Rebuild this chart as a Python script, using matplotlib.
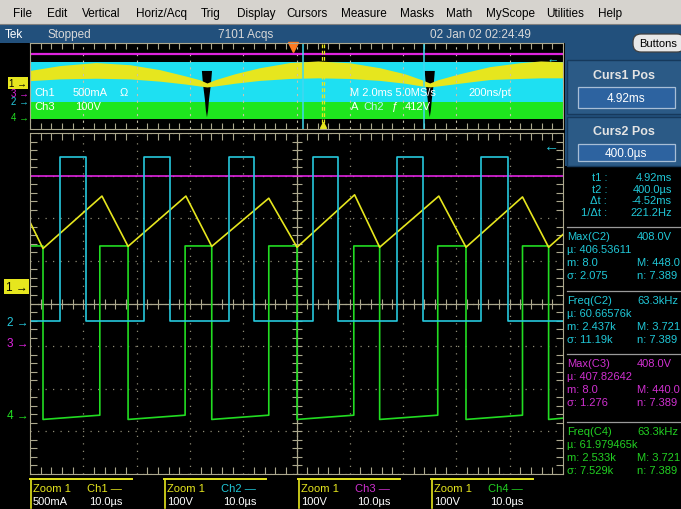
import numpy as np
import matplotlib
matplotlib.use("Agg")
import matplotlib.pyplot as plt
from matplotlib import font_manager
from matplotlib.patches import Rectangle, FancyBboxPatch, Polygon

# ---------------- data ----------------
# Zoom 1 window: time in us (10 us/div), amplitude in divisions
ch1_t = [0, 2.44, 13.5, 18.4, 29.25, 34.1, 44.8, 50.1, 60.9, 65.6, 76.7, 81.8, 92.4, 97.3, 100]
ch1_v = [1.91, 1.29, 2.52, 1.34, 2.52, 1.34, 2.47, 1.32, 2.55, 1.32, 2.52, 1.32, 2.50, 1.32, 1.62]
ch2_rise = [5.63, 21.4, 37.3, 53.1, 68.8, 84.6]
ch2_fall = [10.5, 26.25, 42.0, 57.8, 73.7, 89.6]
ch2_high, ch2_low = 3.44, -0.41
ch3_level = 2.99
ch4_fall = [2.44, 18.4, 34.1, 50.1, 65.6, 81.8, 97.3]
ch4_rise = [13.1, 29.1, 44.8, 60.75, 76.5, 92.4]
ch4_high = 1.35
ch4_low_start, ch4_low_end = -2.72, -2.62
main_gnd = {"1": 0.39, "2": -0.43, "3": -0.93, "4": -2.62}

# overview record: time in ms (2 ms/div), trigger at 0
ov_xlim = (-9.86, 10.14)
ov_t = [-9.86, -8.74, -7.39, -6.11, -4.99, -4.05, -3.49, -3.22, -2.92, -2.17, -1.24, -0.11,
        0.94, 2.14, 3.26, 4.20, 4.84, 5.14, 5.44, 6.26, 7.39, 8.51, 9.30, 10.14]
ov_top = [1.45, 1.90, 2.18, 1.98, 1.52, 0.95, 0.58, 0.28, 0.58, 1.14, 1.70, 2.18,
          2.33, 2.16, 1.70, 1.14, 0.58, 0.28, 0.58, 1.14, 1.80, 2.16, 2.33, 2.25]
ov_bot = [0.50, 0.66, 0.72, 0.66, 0.45, 0.19, 0.00, -0.09, 0.00, 0.26, 0.52, 0.70,
          0.76, 0.70, 0.52, 0.26, 0.00, -0.09, 0.00, 0.26, 0.60, 0.70, 0.76, 0.76]
ov_ch3_level = 2.98
ov_ch2_band = (-1.49, 2.23)
ov_ch4_band = (-3.07, -1.49)
ov_dips = [-3.22, 5.14]
notch_dx = [-0.19, 0.19, 0.15, 0.08, 0.04, 0.0, -0.04, -0.08, -0.15]
notch_y = [1.4, 1.4, 0.2, -1.2, -2.3, -2.9, -2.3, -1.2, 0.2]
curs1_ms, curs2_ms = 4.92, 0.40
zoom_start_ms, zoom_width_ms = 1.09, 0.10
ov_gnd = {"1": 0.25, "3": -0.62, "2": -1.42, "4": -2.88}

menu_items = ["File", "Edit", "Vertical", "Horiz/Acq", "Trig", "Display", "Cursors",
              "Measure", "Masks", "Math", "MyScope", "Utilities", "Help"]

curs_labels = ["t1 :", "t2 :", "\u0394t :", "1/\u0394t :"]
curs_values = ["4.92ms", "400.0\u00b5s", "-4.52ms", "221.2Hz"]

meas_title = ["Max(C2)", "Freq(C2)", "Max(C3)", "Freq(C4)"]
meas_value = ["408.0V", "63.3kHz", "408.0V", "63.3kHz"]
meas_mean = ["406.53611", "60.66576k", "407.82642", "61.979465k"]
meas_min = ["8.0", "2.437k", "8.0", "2.533k"]
meas_max = ["448.0", "3.721", "440.0", "3.721"]
meas_sigma = ["2.075", "11.19k", "1.276", "7.529k"]
meas_n = ["7.389", "7.389", "7.389", "7.389"]

readout_ch = ["Ch1", "Ch2", "Ch3", "Ch4"]
readout_scale = ["500mA", "100V", "100V", "100V"]
readout_time = ["10.0\u00b5s"] * 4

# ---------------- style ----------------
installed = {f.name for f in font_manager.fontManager.ttflist}
tek_font = next((f for f in ["Liberation Sans Narrow", "Liberation Sans"] if f in installed), "DejaVu Sans")
plt.rcParams["font.family"] = [tek_font, "DejaVu Sans"]

YEL, CYA, MAG, GRN = "#e6e61e", "#26c8dc", "#e024e0", "#22dc22"
OV_CYA, OV_GRN = "#1ee0f2", "#1ee61e"
T_CYA, T_MAG, T_GRN = "#20c8d8", "#d030d0", "#22d022"
grid_col, dot_col = "#aca88e", "#8e8a74"
bar_blue, panel_blue = "#22507c", "#2b5a86"

W, H = 681, 510
fig = plt.figure(figsize=(W / 100, H / 100), dpi=100, facecolor="black")


def px_axes(x0, y0, x1, y1, z):
    return fig.add_axes([x0 / W, 1 - y1 / H, (x1 - x0) / W, (y1 - y0) / H], zorder=z)


bg = px_axes(0, 0, W, H, 0)
bg.set_xlim(0, W); bg.set_ylim(H, 0); bg.axis("off")
fg = px_axes(0, 0, W, H, 5)
fg.set_xlim(0, W); fg.set_ylim(H, 0); fg.axis("off")

# window chrome
bg.add_patch(Rectangle((0, 0), W, 25, fc="#d6d3ce", ec="none"))
bg.plot([0, W], [25, 25], color="#808080", lw=0.8)
bg.add_patch(Rectangle((0, 26), W, 18, fc=bar_blue, ec="none"))
bg.add_patch(Rectangle((565, 44), W - 565, 123, fc=bar_blue, ec="none"))
bg.add_patch(Rectangle((567, 61), 116, 54, fc=panel_blue, ec="#16395c", lw=1))
bg.add_patch(Rectangle((567, 118), 116, 49, fc=panel_blue, ec="#16395c", lw=1))
bg.add_patch(Rectangle((578, 88), 97, 21, fc="#2d63a0", ec="#a8bed6", lw=0.9))
bg.add_patch(Rectangle((578, 145), 97, 17, fc="#2d63a0", ec="#a8bed6", lw=0.9))
bg.add_patch(FancyBboxPatch((633, 35), 52, 18, boxstyle="round,pad=0,rounding_size=8",
                            fc="#e8e8e8", ec="#404040", lw=0.9))

menu_x = [13, 47, 82, 136, 201, 237, 286, 341, 400, 446, 486, 546, 598]
for name, x in zip(menu_items, menu_x):
    fg.text(x, 14, name, color="black", fontsize=8.5, va="center")

fg.text(5, 35, "Tek", color="white", fontsize=8.5, va="center")
fg.text(48, 35, "Stopped", color="#d8d8d8", fontsize=8.5, va="center")
fg.text(218, 35, "7101 Acqs", color="#d8d8d8", fontsize=8.5, va="center")
fg.text(430, 35, "02 Jan 02 02:24:49", color="#d8d8d8", fontsize=8.5, va="center")
fg.text(658, 44, "Buttons", color="black", fontsize=8, va="center", ha="center")
fg.text(624, 76, "Curs1 Pos", color="#e4e4e4", fontsize=9, va="center", ha="center", weight="bold")
fg.text(626, 99, "4.92ms", color="white", fontsize=8.5, va="center", ha="center")
fg.text(624, 132, "Curs2 Pos", color="#e4e4e4", fontsize=9, va="center", ha="center", weight="bold")
fg.text(626, 154, "400.0\u00b5s", color="white", fontsize=8.5, va="center", ha="center")

# ---------------- overview ----------------
ov = px_axes(30, 44, 563, 130, 2)
ov.set_facecolor("black")
ov.set_xlim(*ov_xlim); ov.set_ylim(-4, 4)
ov.fill_between(ov_xlim, *ov_ch2_band, color=OV_CYA, lw=0)
ov.fill_between(ov_xlim, *ov_ch4_band, color=OV_GRN, lw=0)
ov.plot(ov_xlim, [ov_ch3_level] * 2, color=MAG, lw=1.6)
for d in ov_dips:
    ov.add_patch(Polygon(np.column_stack([d + np.array(notch_dx), notch_y]), fc="black", ec="none"))
ov.fill_between(ov_t, ov_bot, ov_top, color=YEL, lw=0)
ov_div = ov_xlim[0] + 2 * np.arange(11)
ov.set_xticks(ov_div)
ov.set_xticks(ov_xlim[0] + 0.4 * np.arange(51), minor=True)
ov.set_yticks([])
ov.tick_params(which="both", direction="in", length=4, width=0.8, color=grid_col,
               top=True, labelbottom=False, labelleft=False)
ov.tick_params(which="major", length=0)
ov.grid(True, axis="x", color="#c8c4ac", lw=0.8, ls=(0, (2, 4)))
for s in ov.spines.values():
    s.set_color(grid_col)
ov.axvline(curs1_ms, color="#40d8f0", lw=1.1)
ov.axvline(curs2_ms, color="#40d8f0", lw=1.1)
ov.axvline(zoom_start_ms, color=YEL, lw=0.9, ls=(0, (3, 2)))
ov.axvline(zoom_start_ms + zoom_width_ms, color=YEL, lw=0.9, ls=(0, (3, 2)))
ov.plot(0, 3.6, marker="v", color="#ff7a20", ms=7, clip_on=False)
ov.plot(zoom_start_ms + zoom_width_ms / 2, -3.6, marker="^", color=YEL, ms=5, clip_on=False)
ov.annotate("\u2190", xy=(1, 2.45), xycoords=("axes fraction", "data"), xytext=(-3, 0),
            textcoords="offset points", ha="right", va="center", color=CYA, fontsize=9)

fg.text(34, 93, "Ch1", color="white", fontsize=8, va="center")
fg.text(73, 93, "500mA", color="white", fontsize=8, va="center")
fg.text(120, 93, "\u03a9", color="white", fontsize=8, va="center")
fg.text(34, 107, "Ch3", color="white", fontsize=8, va="center")
fg.text(75, 107, "100V", color="white", fontsize=8, va="center")
fg.text(350, 93, "M 2.0ms 5.0MS/s", color="white", fontsize=8, va="center")
fg.text(468, 93, "200ns/pt", color="white", fontsize=8, va="center")
fg.text(351, 107, "A", color="white", fontsize=8, va="center")
fg.text(363, 107, "Ch2", color="#b8f4fa", fontsize=8, va="center")
fg.text(392, 107, "\u0192", color="white", fontsize=8, va="center")
fg.text(405, 107, "412V", color="white", fontsize=8, va="center")

# ---------------- zoom window ----------------
ax = px_axes(30, 134, 563, 475, 2)
ax.set_facecolor("none")
ax.set_xlim(0, 100); ax.set_ylim(-4, 4)
ax.set_xticks(np.arange(0, 101, 10)); ax.set_yticks(np.arange(-4, 5, 1))
ax.set_xticks(np.arange(0, 100.01, 2), minor=True)
ax.set_yticks(np.arange(-4, 4.01, 0.2), minor=True)
ax.tick_params(which="both", direction="in", length=5, width=0.8, color=grid_col,
               top=True, right=True, labelbottom=False, labelleft=False)
ax.tick_params(which="major", length=0)
ax.set_axisbelow(True)
ax.grid(True, which="major", color=dot_col, lw=0.9, ls=(0, (1, 5)))
for s in ax.spines.values():
    s.set_color(grid_col)
ax.axhline(0, color=grid_col, lw=0.9)
ax.axvline(50, color=grid_col, lw=0.9)
mx = np.arange(0, 100.01, 2)
my = np.arange(-4, 4.01, 0.2)
ax.plot(mx, np.zeros_like(mx), ls="none", marker="|", ms=7, mew=0.8, color=grid_col)
ax.plot(np.full_like(my, 50), my, ls="none", marker="_", ms=7, mew=0.8, color=grid_col)

# build step traces from the edge times
c2_t, c2_v = [0], [ch2_low]
for r, f in zip(ch2_rise, ch2_fall):
    c2_t += [r, r, f, f]
    c2_v += [ch2_low, ch2_high, ch2_high, ch2_low]
c2_t.append(100); c2_v.append(ch2_low)

c4_t, c4_v = [0], [ch4_high]
for i, f in enumerate(ch4_fall):
    c4_t += [f, f]
    c4_v += [ch4_high, ch4_low_start]
    if i < len(ch4_rise):
        r = ch4_rise[i]
        c4_t += [r, r]
        c4_v += [ch4_low_end, ch4_high]
c4_t.append(100); c4_v.append(ch4_low_start + 0.03)

ax.plot([0, 100], [ch3_level] * 2, color=MAG, lw=1.2)
ax.plot(c4_t, c4_v, color=GRN, lw=1.2)
ax.plot(ch1_t, ch1_v, color=YEL, lw=1.2)
ax.plot(c2_t, c2_v, color=CYA, lw=1.2)
ax.annotate("\u2190", xy=(1, 3.7), xycoords=("axes fraction", "data"), xytext=(-3, 0),
            textcoords="offset points", ha="right", va="center", color=CYA, fontsize=11)

# channel ground markers
mk_col = {"1": YEL, "2": CYA, "3": MAG, "4": GRN}
for a, gnd, fs in ((ax, main_gnd, 8.5), (ov, ov_gnd, 7)):
    for ch, lvl in gnd.items():
        if ch == "1":
            a.annotate("1 \u2192", xy=(0, lvl), xycoords=("axes fraction", "data"), xytext=(-2, 0),
                       textcoords="offset points", ha="right", va="center", color="black",
                       fontsize=fs, annotation_clip=False,
                       bbox=dict(boxstyle="square,pad=0.12", fc=YEL, ec="none"))
        else:
            a.annotate(ch + " \u2192", xy=(0, lvl), xycoords=("axes fraction", "data"), xytext=(-1, 0),
                       textcoords="offset points", ha="right", va="center", color=mk_col[ch],
                       fontsize=fs, annotation_clip=False)

# ---------------- cursor / measurement readouts ----------------
for i, (lab, val) in enumerate(zip(curs_labels, curs_values)):
    y = 178 + 11.7 * i
    fg.text(607, y, lab, color=T_CYA, fontsize=8, va="center", ha="right")
    fg.text(672, y, val, color=T_CYA, fontsize=8, va="center", ha="right")

meas_col = [T_CYA, T_CYA, T_MAG, T_GRN]
block_y = [237, 301, 364, 432]
for i in range(4):
    y0 = block_y[i]
    fg.plot([567, W], [y0 - 9, y0 - 9], color="#9a9a9a", lw=0.9)
    c = meas_col[i]
    rows = [(meas_title[i], meas_value[i]),
            ("\u00b5: " + meas_mean[i], None),
            ("m: " + meas_min[i], "M: " + meas_max[i]),
            ("\u03c3: " + meas_sigma[i], "n: " + meas_n[i])]
    for j, (left, right) in enumerate(rows):
        y = y0 + 13 * j
        fg.text(567, y, left, color=c, fontsize=8, va="center")
        if right:
            fg.text(637, y, right, color=c, fontsize=8, va="center")

# bottom readouts
box_x = [30, 164, 298, 431]
for i in range(4):
    x0 = box_x[i]
    fg.plot([x0, x0 + 102], [480, 480], color=YEL, lw=1.4)
    fg.plot([x0 + 1, x0 + 1], [480, 509], color=YEL, lw=1.2)
    fg.text(x0 + 3, 489, "Zoom 1", color=YEL, fontsize=8, va="center")
    fg.text(x0 + 57, 489, readout_ch[i] + " \u2014", color=[YEL, T_CYA, T_MAG, T_GRN][i],
            fontsize=8, va="center")
    fg.text(x0 + 3, 502, readout_scale[i], color="white", fontsize=8, va="center")
    fg.text(x0 + 59, 502, readout_time[i], color="white", fontsize=8, va="center")

fig.savefig("out.png", dpi=100, facecolor="black")
